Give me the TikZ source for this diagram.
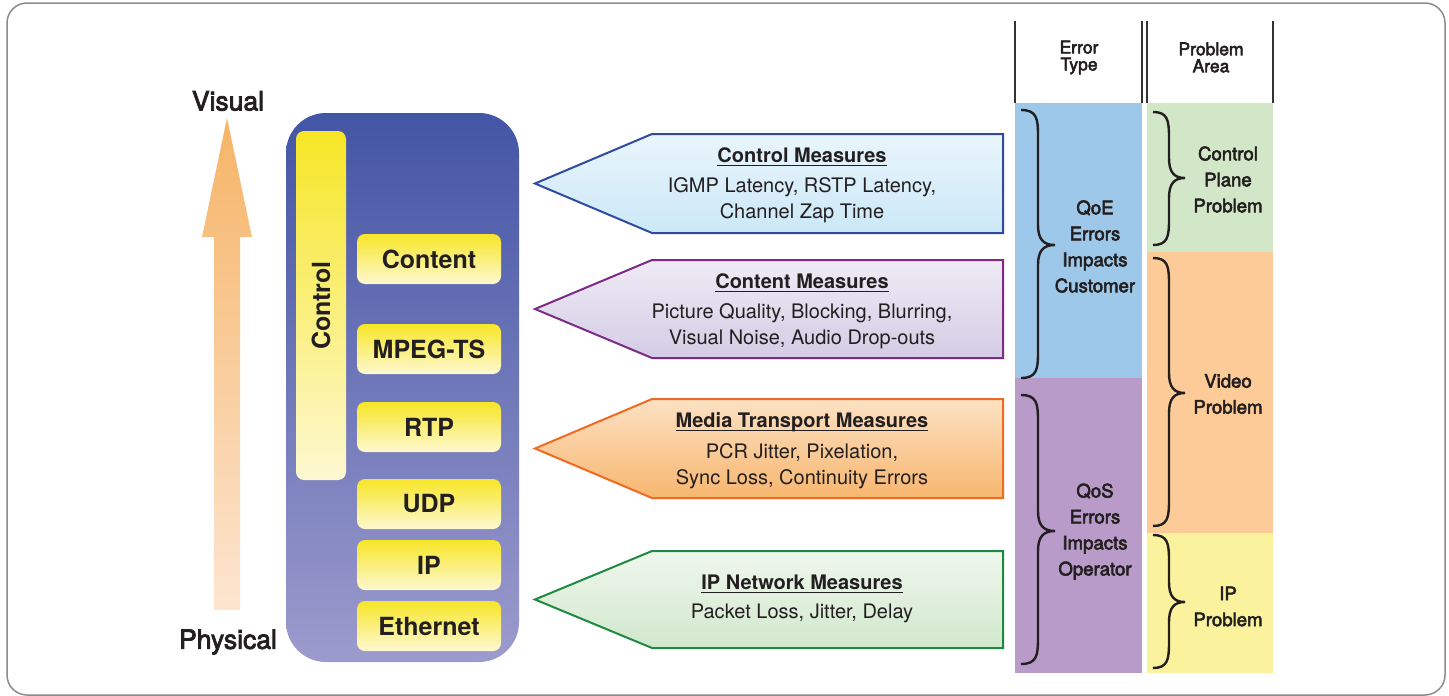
\documentclass[tikz,border=0pt]{standalone}
\usepackage{fontspec}
\setmainfont{TeX Gyre Heros}
\newfontfamily\medfont[FakeBold=3]{TeX Gyre Heros}
\definecolor{ink}{HTML}{231F20}
\definecolor{frame}{HTML}{8C8C8C}
\definecolor{stacktop}{HTML}{4355A5}
\definecolor{stackbot}{HTML}{9C9BCD}
\definecolor{yeltop}{HTML}{F7E626}
\definecolor{yelbot}{HTML}{FDF8D2}
\definecolor{uptop}{HTML}{F6B467}
\definecolor{upbot}{HTML}{FCE5D0}
\definecolor{cmline}{HTML}{2F4B9F}
\definecolor{cmtop}{HTML}{E9F5FC}
\definecolor{cmbot}{HTML}{CBE8F7}
\definecolor{ctline}{HTML}{7D2A86}
\definecolor{cttop}{HTML}{EFEBF5}
\definecolor{ctbot}{HTML}{D4CCE5}
\definecolor{mtline}{HTML}{F26A22}
\definecolor{mttop}{HTML}{FCE1C3}
\definecolor{mtbot}{HTML}{F7B66F}
\definecolor{ipline}{HTML}{1E8A40}
\definecolor{iptop}{HTML}{EFF7ED}
\definecolor{ipbot}{HTML}{D1E8CD}
\definecolor{qoe}{HTML}{9EC8EA}
\definecolor{qos}{HTML}{B89BC8}
\definecolor{cpp}{HTML}{D1E7C7}
\definecolor{vid}{HTML}{FDCB97}
\definecolor{ipp}{HTML}{FAF29C}
\definecolor{hdr}{HTML}{333333}
\newcommand\myul[1]{\setbox0\hbox{#1}\rlap{\rule[-4pt]{\wd0}{1.6pt}}\box0}
\newcommand\cbrace[5]{%
 \draw[bracestyle] (#1,#2) .. controls ({#1+0.45*#5},#2) and ({#1+0.5*#5},{#2+8}) .. ({#1+0.5*#5},{#2+25})
   -- ({#1+0.5*#5},{#3-20}) .. controls ({#1+0.5*#5},{#3-6}) and ({#1+0.65*#5},#3) .. ({#1+#5},#3)
   .. controls ({#1+0.65*#5},#3) and ({#1+0.5*#5},{#3+6}) .. ({#1+0.5*#5},{#3+20})
   -- ({#1+0.5*#5},{#4-25}) .. controls ({#1+0.5*#5},{#4-8}) and ({#1+0.45*#5},#4) .. (#1,#4);
}
\newcommand\measure[6]{%
 \path[draw=#4, line width=2, top color=#5, bottom color=#6]
   (1003,#2) -- (652,#2) -- (535,{(#2+#3)/2}) -- (652,#3) -- (1003,#3) -- cycle;
}
\tikzset{
  bracestyle/.style={draw=ink, line width=2.4},
  layer/.style={rounded corners=8, top color=yeltop, bottom color=yelbot, minimum width=144, minimum height=50, inner sep=0, text=ink, font=\fontsize{25}{26}\bfseries\selectfont},
  mtitle/.style={text=ink, font=\fontsize{20}{26}\bfseries\selectfont, inner sep=0},
  mbody/.style={text=ink, align=center, font=\fontsize{20}{26}\selectfont, inner sep=0},
  rtext/.style={text=ink, align=center, font=\fontsize{18.6}{26}\medfont\selectfont, inner sep=0},
  htext/.style={text=ink, align=center, font=\fontsize{17.5}{17}\medfont\selectfont, inner sep=0},
  side/.style={text=ink, font=\fontsize{26.5}{26}\medfont\selectfont, inner sep=0},
  hline/.style={draw=hdr, line width=2}
}
\begin{document}
\begin{tikzpicture}[x=1pt,y=-1pt]
\useasboundingbox (0,0) rectangle (1449,696);
\draw[frame, line width=1.5, rounded corners=20] (7,3) rectangle (1445,695);

% up arrow
\shade[top color=uptop, bottom color=upbot] (227,118) -- (252,237) -- (240,237) -- (240,610) -- (214,610) -- (214,237) -- (202,237) -- cycle;
\node[side] (visual) at (228,101) {Visual};
\node[side] (physical) at (228,642) {Physical};

% protocol stack
\node[rounded corners=40, top color=stacktop, bottom color=stackbot, minimum width=233, minimum height=549, inner sep=0] (stack) at (402.5,387.5) {};
\node[rounded corners=8, top color=yeltop, bottom color=yelbot, minimum width=50, minimum height=349, inner sep=0] (control) at (321,305.5) {};
\node[rotate=90, text=ink, font=\fontsize{25}{26}\bfseries\selectfont, inner sep=0] (controlT) at (control.center) {Control};
\node[layer] (content) at (429,259) {Content};
\node[layer] (mpeg) at (429,349) {MPEG-TS};
\node[layer] (rtp) at (429,427) {RTP};
\node[layer] (udp) at (429,504) {UDP};
\node[layer] (ip) at (429,565) {IP};
\node[layer] (eth) at (429,626) {Ethernet};

% measure arrows
\measure{cm}{134}{233}{cmline}{cmtop}{cmbot}
\node[mtitle] (cmT) at (802,157) {\myul{Control Measures}};
\node[mbody] (cmB) at (802,200) {IGMP Latency, RSTP Latency,\\Channel Zap Time};
\measure{ct}{260}{358}{ctline}{cttop}{ctbot}
\node[mtitle] (ctT) at (802,283) {\myul{Content Measures}};
\node[mbody] (ctB) at (802,326.5) {Picture Quality, Blocking, Blurring,\\Visual Noise, Audio Drop-outs};
\measure{mt}{399}{498}{mtline}{mttop}{mtbot}
\node[mtitle] (mtT) at (802,422) {\myul{Media Transport Measures}};
\node[mbody] (mtB) at (802,466) {PCR Jitter, Pixelation,\\Sync Loss, Continuity Errors};
\measure{ipm}{551}{648}{ipline}{iptop}{ipbot}
\node[mtitle] (ipT) at (802,584) {\myul{IP Network Measures}};
\node[mbody] (ipB) at (802,613) {Packet Loss, Jitter, Delay};

% right columns
\fill[qoe] (1015,103) rectangle (1142,378);
\fill[qos] (1015,378) rectangle (1142,673);
\fill[cpp] (1147,103) rectangle (1273,252);
\fill[vid] (1147,252) rectangle (1273,533);
\fill[ipp] (1147,533) rectangle (1273,673);
\draw[hline] (1015,21) -- (1015,103);
\draw[hline] (1142,21) -- (1142,103);
\draw[hline] (1147,21) -- (1147,103);
\draw[hline] (1273,21) -- (1273,103);
\node[htext] (etype) at (1079,57.5) {Error\\Type};
\node[htext] (parea) at (1211,57.5) {Problem\\Area};

\cbrace{1021}{110}{245}{378}{34}
\cbrace{1021}{395}{531}{664}{34}
\cbrace{1153}{112}{178}{245}{32}
\cbrace{1153}{258}{393}{526}{32}
\cbrace{1153}{535}{602}{668}{32}

\node[rtext] (qoeT) at (1095,246.5) {QoE\\Errors\\Impacts\\Customer};
\node[rtext] (qosT) at (1095,531.5) {QoS\\Errors\\Impacts\\Operator};
\node[rtext] (cppT) at (1228,179.5) {Control\\Plane\\Problem};
\node[rtext] (vidT) at (1228,394) {Video\\Problem};
\node[rtext] (ippT) at (1228,606.5) {IP\\Problem};
\end{tikzpicture}
\end{document}
